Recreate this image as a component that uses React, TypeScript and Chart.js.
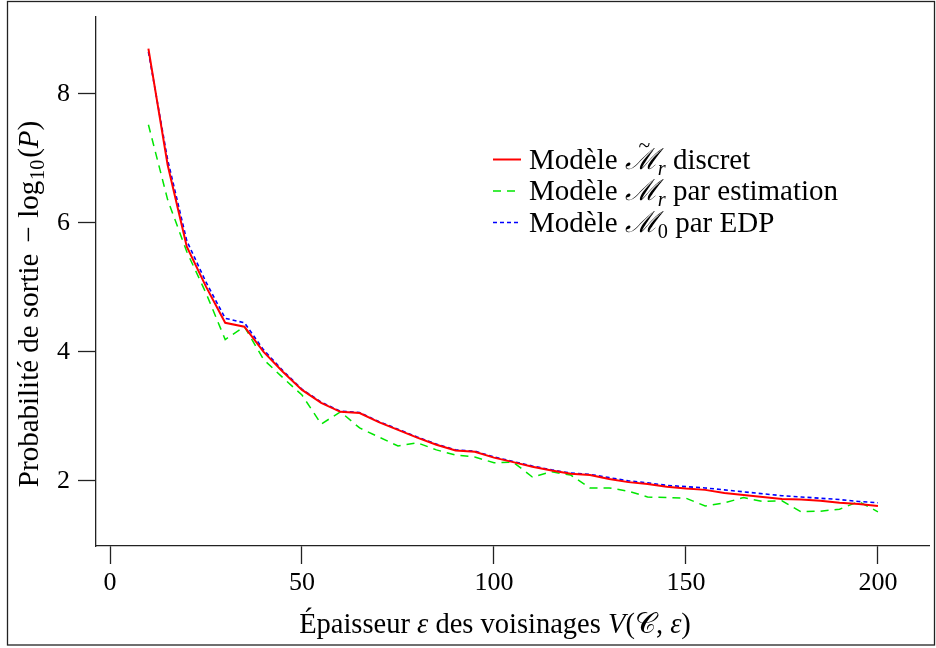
import React, { useEffect, useRef } from 'react';
import { Chart, registerables } from 'chart.js';

Chart.register(...registerables);

const FONT = '"Liberation Serif", "DejaVu Serif", serif';
const MATH_FONT = '"DejaVu Serif", "Liberation Serif", serif';

// épaisseur epsilon
const epsilons = [10, 15, 20, 25, 30, 35, 40, 45, 50, 55, 60, 65, 70, 75, 80, 85, 90, 95, 100, 105,
  110, 115, 120, 125, 130, 135, 140, 145, 150, 155, 160, 165, 170, 175, 180, 185, 190, 195, 200];

const discret = [8.70, 6.90, 5.63, 5.01, 4.45, 4.39, 4.00, 3.69, 3.41, 3.21, 3.07, 3.05, 2.91, 2.79, 2.67,
  2.56, 2.47, 2.45, 2.36, 2.29, 2.22, 2.16, 2.11, 2.09, 2.03, 1.98, 1.95, 1.91, 1.88, 1.86, 1.81, 1.78,
  1.75, 1.72, 1.71, 1.69, 1.66, 1.64, 1.61];

const estimation = [7.52, 6.36, 5.55, 4.91, 4.19, 4.39, 3.88, 3.60, 3.33, 2.88, 3.07, 2.82, 2.68, 2.54,
  2.59, 2.48, 2.40, 2.37, 2.28, 2.29, 2.06, 2.14, 2.09, 1.89, 1.89, 1.84, 1.75, 1.74, 1.73, 1.61, 1.66,
  1.74, 1.68, 1.69, 1.52, 1.53, 1.56, 1.68, 1.52];

const edp = [8.65, 6.98, 5.72, 5.08, 4.52, 4.45, 4.03, 3.71, 3.42, 3.22, 3.08, 3.06, 2.92, 2.80, 2.68,
  2.57, 2.48, 2.46, 2.37, 2.30, 2.23, 2.17, 2.12, 2.10, 2.05, 2.00, 1.97, 1.93, 1.91, 1.89, 1.86, 1.83,
  1.80, 1.77, 1.75, 1.73, 1.71, 1.68, 1.66];

const xTicks = [0, 50, 100, 150, 200];
const yTicks = [2, 4, 6, 8];

const X_MIN = -3.65;
const X_MAX = 213.3;
const Y_MIN = 0.99;
const Y_MAX = 9.19;

type Seg = { t: string; it?: boolean; sub?: boolean; tilde?: boolean; math?: boolean; gap?: number };

function segFont(s: Seg, size: number) {
  const sz = s.sub ? size * 0.7 : size;
  return `${s.it ? 'italic ' : ''}${sz}px ${s.math ? MATH_FONT : FONT}`;
}

function drawRich(ctx: CanvasRenderingContext2D, segs: Seg[], x: number, y: number, size: number, align: 'left' | 'center') {
  ctx.textAlign = 'left';
  ctx.textBaseline = 'alphabetic';
  const widths = segs.map((s) => {
    ctx.font = segFont(s, size);
    return ctx.measureText(s.t).width + (s.gap || 0) * size;
  });
  const total = widths.reduce((a, b) => a + b, 0);
  let cx = align === 'center' ? x - total / 2 : x;
  segs.forEach((s, i) => {
    ctx.font = segFont(s, size);
    ctx.fillText(s.t, cx, y + (s.sub ? size * 0.22 : 0));
    if (s.tilde) {
      ctx.font = `${size * 0.75}px ${FONT}`;
      ctx.textAlign = 'center';
      ctx.fillText('~', cx + widths[i] / 2 + 3, y - size * 0.58);
      ctx.textAlign = 'left';
    }
    cx += widths[i];
  });
}

const decorPlugin = {
  id: 'decor',
  afterDraw(chart: any) {
    const ctx: CanvasRenderingContext2D = chart.ctx;
    ctx.save();
    // outer frame
    ctx.strokeStyle = '#222';
    ctx.lineWidth = 1.3;
    ctx.strokeRect(7.5, 1.5, 927, 643.5);

    ctx.fillStyle = '#000';
    // y title
    ctx.save();
    ctx.translate(38, 304);
    ctx.rotate(-Math.PI / 2);
    drawRich(ctx, [
      { t: 'Probabilité de sortie ', gap: 0.12 },
      { t: '−', gap: 0.3 },
      { t: 'log', gap: 0.03 },
      { t: '10', sub: true, gap: 0.06 },
      { t: '(' },
      { t: 'P', it: true },
      { t: ')' },
    ], 0, 0, 29, 'center');
    ctx.restore();

    // x title
    drawRich(ctx, [
      { t: 'Épaisseur ' },
      { t: 'ε', it: true },
      { t: ' des voisinages ' },
      { t: 'V', it: true },
      { t: '(' },
      { t: '𝒞', math: true },
      { t: ', ' },
      { t: 'ε', it: true },
      { t: ')' },
    ], 495, 633, 28.5, 'center');

    // legend
    const lx0 = 493;
    const lx1 = 521;
    const size = 29;
    const rows: { y: number; color: string; dash: number[]; w: number; segs: Seg[] }[] = [
      {
        y: 159.5, color: '#ff0000', dash: [], w: 2,
        segs: [{ t: 'Modèle ' }, { t: 'ℳ', math: true, it: true, tilde: true }, { t: 'r', it: true, sub: true }, { t: ' discret' }],
      },
      {
        y: 191, color: '#00e600', dash: [8, 6], w: 1.5,
        segs: [{ t: 'Modèle ' }, { t: 'ℳ', math: true, it: true }, { t: 'r', it: true, sub: true }, { t: ' par estimation' }],
      },
      {
        y: 222.5, color: '#0000ff', dash: [4, 3], w: 1.5,
        segs: [{ t: 'Modèle ' }, { t: 'ℳ', math: true, it: true }, { t: '0', sub: true }, { t: ' par EDP' }],
      },
    ];
    rows.forEach((r) => {
      ctx.beginPath();
      ctx.strokeStyle = r.color;
      ctx.lineWidth = r.w;
      ctx.setLineDash(r.dash);
      ctx.moveTo(lx0, r.y);
      ctx.lineTo(lx1, r.y);
      ctx.stroke();
      ctx.setLineDash([]);
      ctx.fillStyle = '#000';
      drawRich(ctx, r.segs, 529, r.y + 9, size, 'left');
    });
    ctx.restore();
  },
};

export default function App() {
  const ref = useRef<HTMLCanvasElement | null>(null);
  useEffect(() => {
    if (!ref.current) return;
    const toPts = (ys: number[]) => epsilons.map((x, i) => ({ x, y: ys[i] }));
    const chart = new Chart(ref.current, {
      type: 'line',
      data: {
        datasets: [
          {
            label: 'Modèle M̃r discret',
            data: toPts(discret),
            borderColor: '#ff0000',
            borderWidth: 2,
            pointRadius: 0,
            tension: 0,
            order: 0,
          },
          {
            label: 'Modèle Mr par estimation',
            data: toPts(estimation),
            borderColor: '#00e600',
            borderWidth: 1.5,
            borderDash: [8, 6],
            pointRadius: 0,
            tension: 0,
            order: 1,
          },
          {
            label: 'Modèle M0 par EDP',
            data: toPts(edp),
            borderColor: '#0000ff',
            borderWidth: 1.6,
            borderDash: [4, 3],
            pointRadius: 0,
            tension: 0,
            order: 2,
          },
        ],
      },
      options: {
        responsive: false,
        animation: false,
        devicePixelRatio: 1,
        layout: { padding: { left: 0, top: 17, right: 7, bottom: 0 } },
        plugins: { legend: { display: false }, tooltip: { enabled: false } },
        scales: {
          x: {
            type: 'linear',
            min: X_MIN,
            max: X_MAX,
            afterBuildTicks: (s: any) => {
              s.ticks = xTicks.map((v) => ({ value: v }));
            },
            afterFit: (s: any) => {
              s.height = 102;
              s.paddingLeft = 0;
              s.paddingRight = 0;
            },
            grid: { drawOnChartArea: false, drawTicks: true, tickLength: 18, tickColor: '#222', tickWidth: 1.3 },
            border: { display: true, color: '#222', width: 1.3 },
            ticks: { color: '#000', font: { family: FONT, size: 26 }, padding: 4, maxRotation: 0, autoSkip: false },
          },
          y: {
            type: 'linear',
            min: Y_MIN,
            max: Y_MAX,
            afterBuildTicks: (s: any) => {
              s.ticks = yTicks.map((v) => ({ value: v }));
            },
            afterFit: (s: any) => {
              s.width = 96;
              s.paddingTop = 0;
              s.paddingBottom = 0;
            },
            grid: { drawOnChartArea: false, drawTicks: true, tickLength: 18, tickColor: '#222', tickWidth: 1.3 },
            border: { display: true, color: '#222', width: 1.3 },
            ticks: { color: '#000', font: { family: FONT, size: 26 }, padding: 8, autoSkip: false },
          },
        },
      },
      plugins: [decorPlugin],
    } as any);
    return () => chart.destroy();
  }, []);
  return (
    <div style={{ position: 'absolute', left: 0, top: 0, width: 936, height: 648, background: '#fff' }}>
      <canvas ref={ref} width={936} height={648} style={{ display: 'block', width: 936, height: 648 }} />
    </div>
  );
}
